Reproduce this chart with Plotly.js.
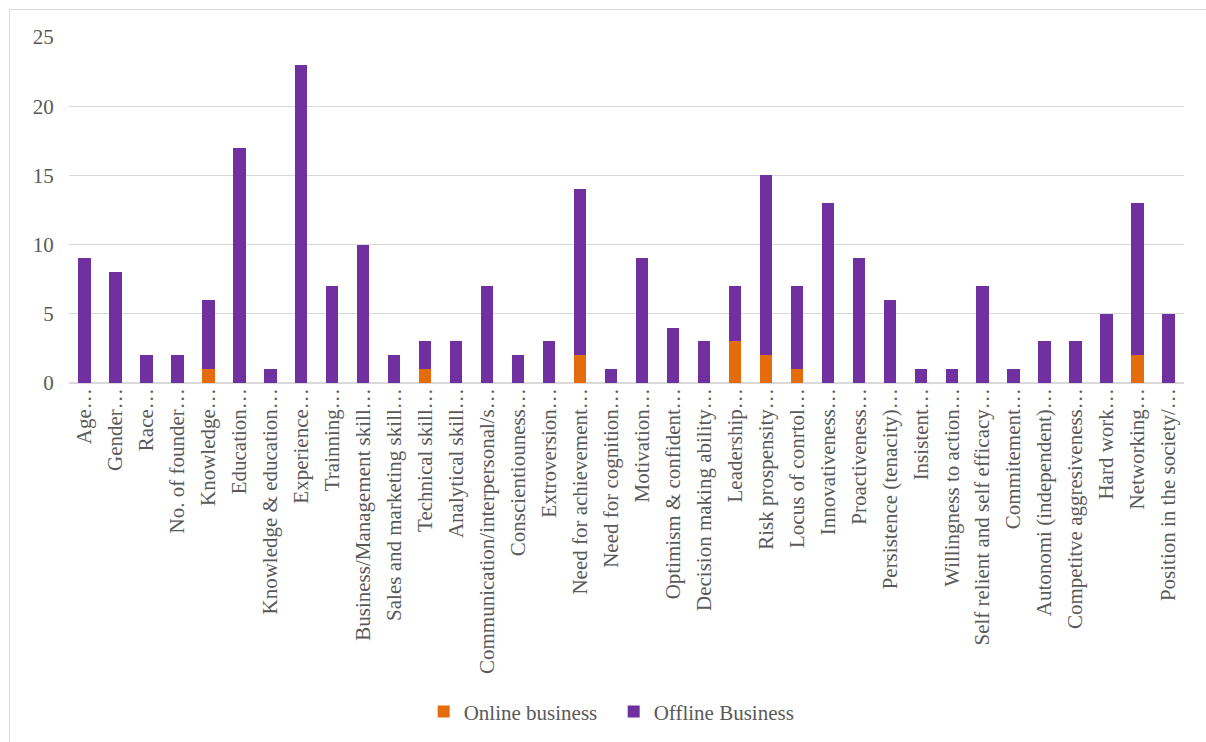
<!DOCTYPE html>
<html>
<head>
<meta charset="utf-8">
<script src="https://cdn.plot.ly/plotly-3.0.1.min.js"></script>
<style>
html,body{margin:0;padding:0;background:#fff;}
#frame{position:absolute;left:9px;top:9px;width:1210px;height:750px;border:1px solid #d9d9d9;box-sizing:border-box;}
#chart{position:absolute;left:0;top:0;width:1206px;height:742px;}
</style>
</head>
<body>
<div id="frame"></div>
<div id="chart"></div>
<script>
const categories = [
  "Age…","Gender…","Race…","No. of founder…","Knowledge…","Education…",
  "Knowledge & education…","Experience…","Trainning…","Business/Management skill…",
  "Sales and marketing skill…","Technical skill…","Analytical skill…",
  "Communication/interpersonal/s…","Conscientiouness…","Extroversion…",
  "Need for achievement…","Need for cognition…","Motivation…","Optimism & confident…",
  "Decision making ability…","Leadership…","Risk prospensity…","Locus of conrtol…",
  "Innovativeness…","Proactiveness…","Persistence (tenacity)…","Insistent…",
  "Willingness to action…","Self relient and self efficacy…","Commitement…",
  "Autonomi (independent)…","Competitve aggresiveness…","Hard work…","Networking…",
  "Position in the society/…"
];
const onlineBusiness = [0,0,0,0,1,0,0,0,0,0,0,1,0,0,0,0,2,0,0,0,0,3,2,1,0,0,0,0,0,0,0,0,0,0,2,0];
const offlineBusiness = [9,8,2,2,5,17,1,23,7,10,2,2,3,7,2,3,12,1,9,4,3,4,13,6,13,9,6,1,1,7,1,3,3,5,11,5];
const yTicks = [0,5,10,15,20,25];

const fontFam = "Liberation Serif, Times New Roman, serif";
const data = [
  {type:'bar', name:'Online business', x:categories, y:onlineBusiness,
   marker:{color:'#E46C0A'}},
  {type:'bar', name:'Offline Business', x:categories, y:offlineBusiness,
   marker:{color:'#7030A0'}}
];
const layout = {
  width:1206, height:742,
  margin:{l:69, r:22, t:37, b:358, pad:0},
  barmode:'stack', bargap:0.6,
  paper_bgcolor:'rgba(0,0,0,0)', plot_bgcolor:'rgba(0,0,0,0)',
  font:{family:fontFam, size:21, color:'#595959'},
  xaxis:{type:'category', tickangle:-90, showgrid:false, zeroline:false,
         showline:false, ticks:'', automargin:false,
         tickfont:{family:fontFam, size:21, color:'#595959'}},
  yaxis:{range:[0,25], tickvals:yTicks, showgrid:true, gridcolor:'#d9d9d9', gridwidth:1.3,
         zeroline:true, zerolinecolor:'#d9d9d9', zerolinewidth:1.3, showline:false,
         ticks:'outside', ticklen:10, tickcolor:'rgba(0,0,0,0)',
         automargin:false,
         tickfont:{family:fontFam, size:21, color:'#595959'}},
  showlegend:true,
  legend:{orientation:'h', x:0.4885, xanchor:'center', y:-0.945, yanchor:'middle',
          font:{family:fontFam, size:21, color:'#595959'}, traceorder:'normal', entrywidth:145}
};
Plotly.newPlot('chart', data, layout, {displayModeBar:false, staticPlot:true});
</script>
</body>
</html>
